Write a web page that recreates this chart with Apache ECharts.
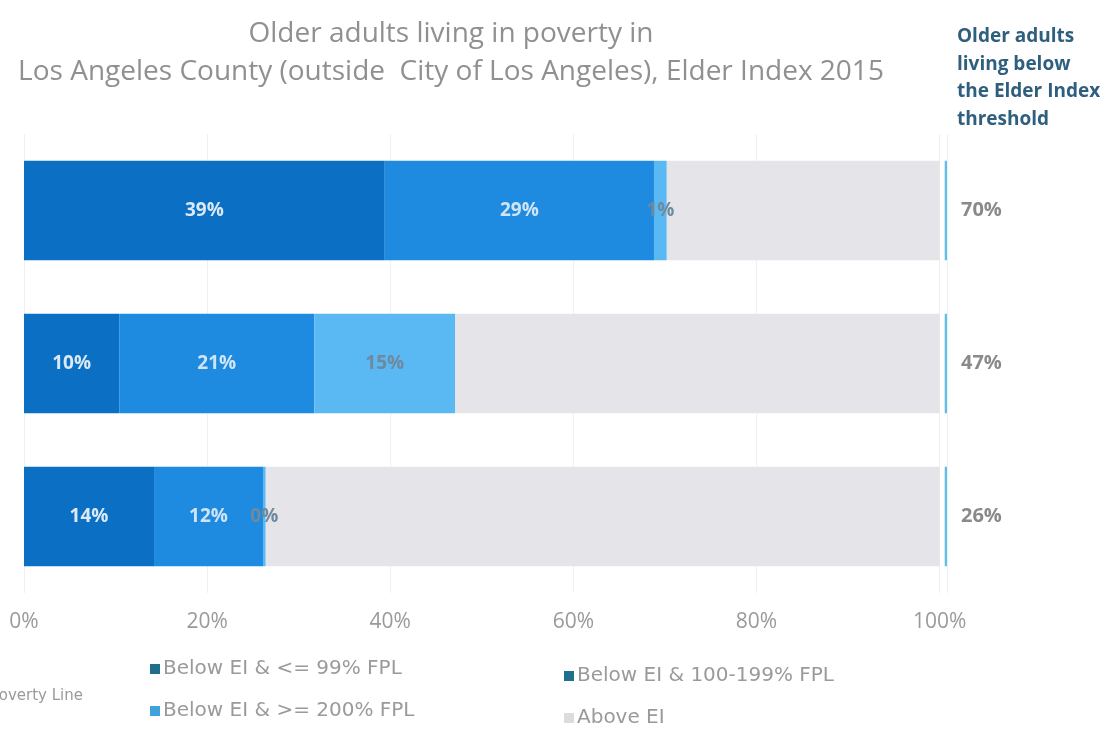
<!DOCTYPE html>
<html>
<head>
<meta charset="utf-8">
<script src="https://cdn.jsdelivr.net/npm/echarts@6/dist/echarts.min.js"></script>
<style>
  html, body { margin: 0; padding: 0; background: #ffffff; }
  #chart { width: 1107px; height: 734px; }
</style>
</head>
<body>
<div id="chart"></div>
<script>
// Rows, top to bottom (category names are not shown on the axis)
const categories = ['Row 1', 'Row 2', 'Row 3'];

// Share of older adults in each income band, percent
const below99FPL = [39.4, 10.4, 14.2];
const fpl100to199 = [29.4, 21.3, 11.9];
const fpl200plus = [1.4, 15.4, 0.3];
const aboveEI = [29.8, 52.9, 73.6];

// Total share below the Elder Index threshold, percent
const belowTotal = [70, 47, 26];

// Axis tick values, percent
const xTicks = [0, 20, 40, 60, 80, 100];

const seriesNames = [
  'Below EI & <= 99% FPL',
  'Below EI & 100-199% FPL',
  'Below EI & >= 200% FPL',
  'Above EI'
];
const colors = ['#0b6fc3', '#1f8be0', '#5ab8f3', '#e5e5e9'];
const legendColors = ['#1e6e8c', '#1f6f8e', '#3ea2dc', '#dcdcdc'];

// Spacer + thin edge mark drawn after the 100% end of each bar
const gapWidth = 0.55;
const edgeWidth = 0.25;
const axisMax = 100 + gapWidth + edgeWidth;

const chart = echarts.init(document.getElementById('chart'), null, { renderer: 'canvas' });

const segLabel = (color) => ({
  show: true,
  position: 'inside',
  formatter: (p) => Math.round(p.value) + '%',
  color: color,
  fontFamily: 'Open Sans',
  fontSize: 19,
  fontWeight: 'bold'
});

// One legend block per entry, laid out as a 2 x 2 grid
const legendSlots = [
  { idx: 0, left: 145, top: 654 },
  { idx: 2, left: 145, top: 696 },
  { idx: 1, left: 559, top: 661 },
  { idx: 3, left: 559, top: 703 }
];
const legends = legendSlots.map((s) => ({
  left: s.left,
  top: s.top,
  itemWidth: 10,
  itemHeight: 10,
  itemGap: 0,
  icon: 'rect',
  selectedMode: false,
  textStyle: { fontFamily: 'DejaVu Sans', fontSize: 20, lineHeight: 20, color: '#9a9a9a', padding: [0, 0, 0, -2] },
  data: [{ name: seriesNames[s.idx], itemStyle: { color: legendColors[s.idx] } }]
}));

const option = {
  backgroundColor: '#ffffff',
  animation: false,
  title: {
    text: 'Older adults living in poverty in\nLos Angeles County (outside  City of Los Angeles), Elder Index 2015',
    left: 446,
    top: 10,
    textAlign: 'center',
    textStyle: {
      fontFamily: 'Open Sans',
      fontWeight: 'normal',
      fontSize: 28,
      lineHeight: 38,
      color: '#909090'
    }
  },
  graphic: [
    {
      type: 'text',
      left: 957,
      top: 23,
      style: {
        text: 'Older adults\nliving below\nthe Elder Index\nthreshold',
        font: 'bold 19px "Open Sans"',
        lineHeight: 27.5,
        fill: '#2f5f7e'
      }
    },
    {
      type: 'text',
      right: 1107 - 83,
      top: 689,
      style: {
        text: 'Poverty Line',
        font: '15px "DejaVu Sans"',
        fill: '#9a9a9a',
        align: 'right'
      }
    }
  ],
  legend: legends,
  grid: {
    left: 24,
    right: 1107 - 947,
    top: 134,
    bottom: 734 - 593,
    containLabel: false
  },
  xAxis: {
    type: 'value',
    min: 0,
    max: axisMax,
    interval: 20,
    axisLine: { show: false },
    axisTick: { show: false },
    splitLine: { show: true, lineStyle: { color: '#f0f0f0', width: 1 } },
    axisLabel: {
      formatter: (v) => (xTicks.indexOf(v) >= 0 ? v + '%' : ''),
      showMaxLabel: false,
      color: '#9a9a9a',
      fontFamily: 'Open Sans',
      fontSize: 21,
      margin: 19
    }
  },
  yAxis: {
    type: 'category',
    data: categories,
    inverse: true,
    axisLine: { show: false },
    axisTick: { show: false },
    axisLabel: { show: false }
  },
  series: [
    {
      name: seriesNames[0],
      type: 'bar',
      stack: 'total',
      barCategoryGap: '35%',
      data: below99FPL,
      itemStyle: { color: colors[0] },
      label: segLabel('#dbe9f6')
    },
    {
      name: seriesNames[1],
      type: 'bar',
      stack: 'total',
      data: fpl100to199,
      itemStyle: { color: colors[1] },
      label: segLabel('#cfe4f6')
    },
    {
      name: seriesNames[2],
      type: 'bar',
      stack: 'total',
      data: fpl200plus,
      itemStyle: { color: colors[2] },
      label: segLabel('#6f8a9e')
    },
    {
      name: seriesNames[3],
      type: 'bar',
      stack: 'total',
      data: aboveEI,
      itemStyle: { color: colors[3] },
      label: { show: false }
    },
    {
      name: 'gap',
      type: 'bar',
      stack: 'total',
      data: categories.map(() => gapWidth),
      itemStyle: { color: 'rgba(0,0,0,0)' },
      silent: true
    },
    {
      name: 'edge',
      type: 'bar',
      stack: 'total',
      data: categories.map(() => edgeWidth),
      itemStyle: { color: '#5cc0e8' },
      silent: true,
      label: {
        show: true,
        position: 'right',
        distance: 14,
        formatter: (p) => belowTotal[p.dataIndex] + '%',
        color: '#8a8a8a',
        fontFamily: 'Open Sans',
        fontSize: 20,
        fontWeight: 'bold'
      }
    }
  ]
};

chart.setOption(option);
</script>
</body>
</html>
